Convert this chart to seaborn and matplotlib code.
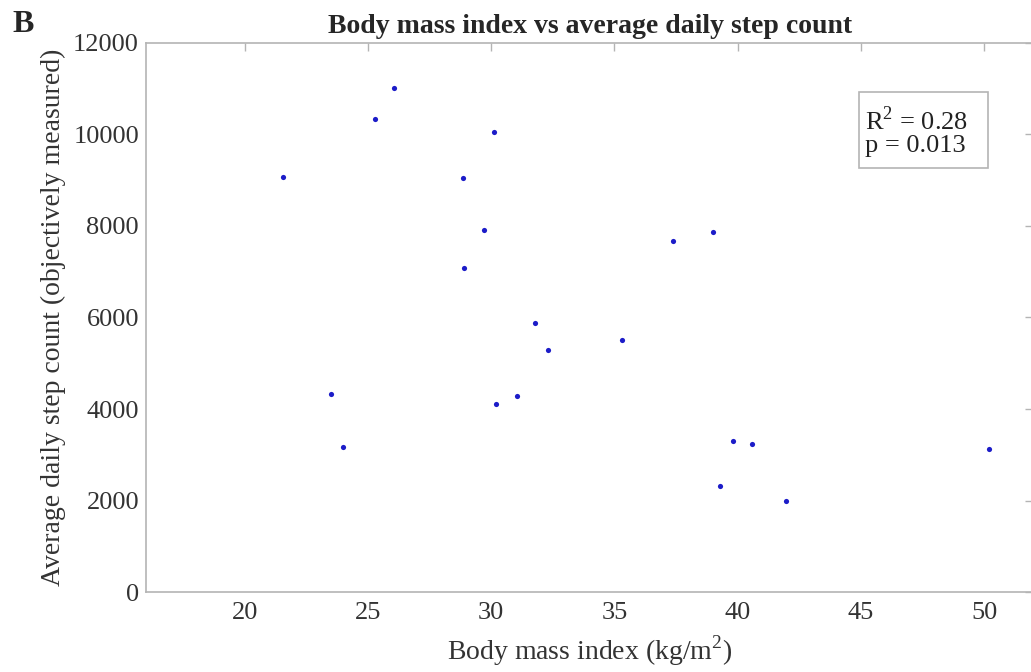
import matplotlib
matplotlib.use("Agg")
import matplotlib.pyplot as plt
from matplotlib.patches import Rectangle
import seaborn as sns
import pandas as pd

# Body mass index (kg/m^2) per participant
bmi = [21.55, 23.5, 24.0, 25.3, 26.05, 28.85, 28.9, 29.7, 30.1, 30.2, 31.05,
       31.8, 32.3, 35.3, 37.4, 39.0, 39.3, 39.8, 40.6, 41.95, 50.2]
# Average daily step count (objectively measured) per participant
steps = [9060, 4330, 3170, 10330, 11010, 9040, 7090, 7910, 10040, 4120, 4290,
         5890, 5300, 5500, 7670, 7860, 2320, 3300, 3230, 1990, 3120]

x_ticks = [20, 25, 30, 35, 40, 45, 50]
y_ticks = [0, 2000, 4000, 6000, 8000, 10000, 12000]
stats_text = "R$^2$ = 0.28\np = 0.013"

df = pd.DataFrame({"bmi": bmi, "steps": steps})

sns.set_style("white")
plt.rcParams["font.family"] = ["Liberation Serif", "DejaVu Serif"]
plt.rcParams["mathtext.fontset"] = "custom"
plt.rcParams["mathtext.rm"] = "Liberation Serif"

fig = plt.figure(figsize=(10.31, 6.72), dpi=100)
ax = fig.add_axes([0.1416, 0.1186, 0.8607, 0.8179])

sns.scatterplot(data=df, x="bmi", y="steps", ax=ax, color="#1c1cc8",
                s=14, linewidth=0, legend=False)

ax.set_xlim(16, 52)
ax.set_ylim(0, 12000)
ax.set_xticks(x_ticks)
ax.set_yticks(y_ticks)

grey = "#b4b4b4"
for sp in ax.spines.values():
    sp.set_visible(True)
    sp.set_color(grey)
    sp.set_linewidth(1.2)
ax.tick_params(direction="in", length=6, width=1.0, color=grey,
               top=True, right=True, labelsize=19, labelcolor="#333333")
ax.tick_params(axis="y", pad=5)
ax.tick_params(axis="x", pad=7)

ax.set_xlabel("Body mass index (kg/m$^2$)", fontsize=20, color="#333333", labelpad=7)
ax.set_ylabel("Average daily step count (objectively measured)", fontsize=20,
              color="#333333", labelpad=5)
ax.set_title("Body mass index vs average daily step count", fontsize=20,
             fontweight="bold", pad=7)

# annotation box with the regression statistics
ax.add_patch(Rectangle((0.8036, 0.772), 0.1454, 0.1383, transform=ax.transAxes,
                       facecolor="white", edgecolor=grey, linewidth=1.2, zorder=3))
ax.text(0.810, 0.838, stats_text, transform=ax.transAxes, fontsize=19,
        color="#222222", va="center", ha="left", linespacing=1.05, zorder=4)

fig.text(0.012, 0.964, "B", fontsize=23, fontweight="bold", va="center", ha="left")

fig.savefig("out.png", dpi=100)
